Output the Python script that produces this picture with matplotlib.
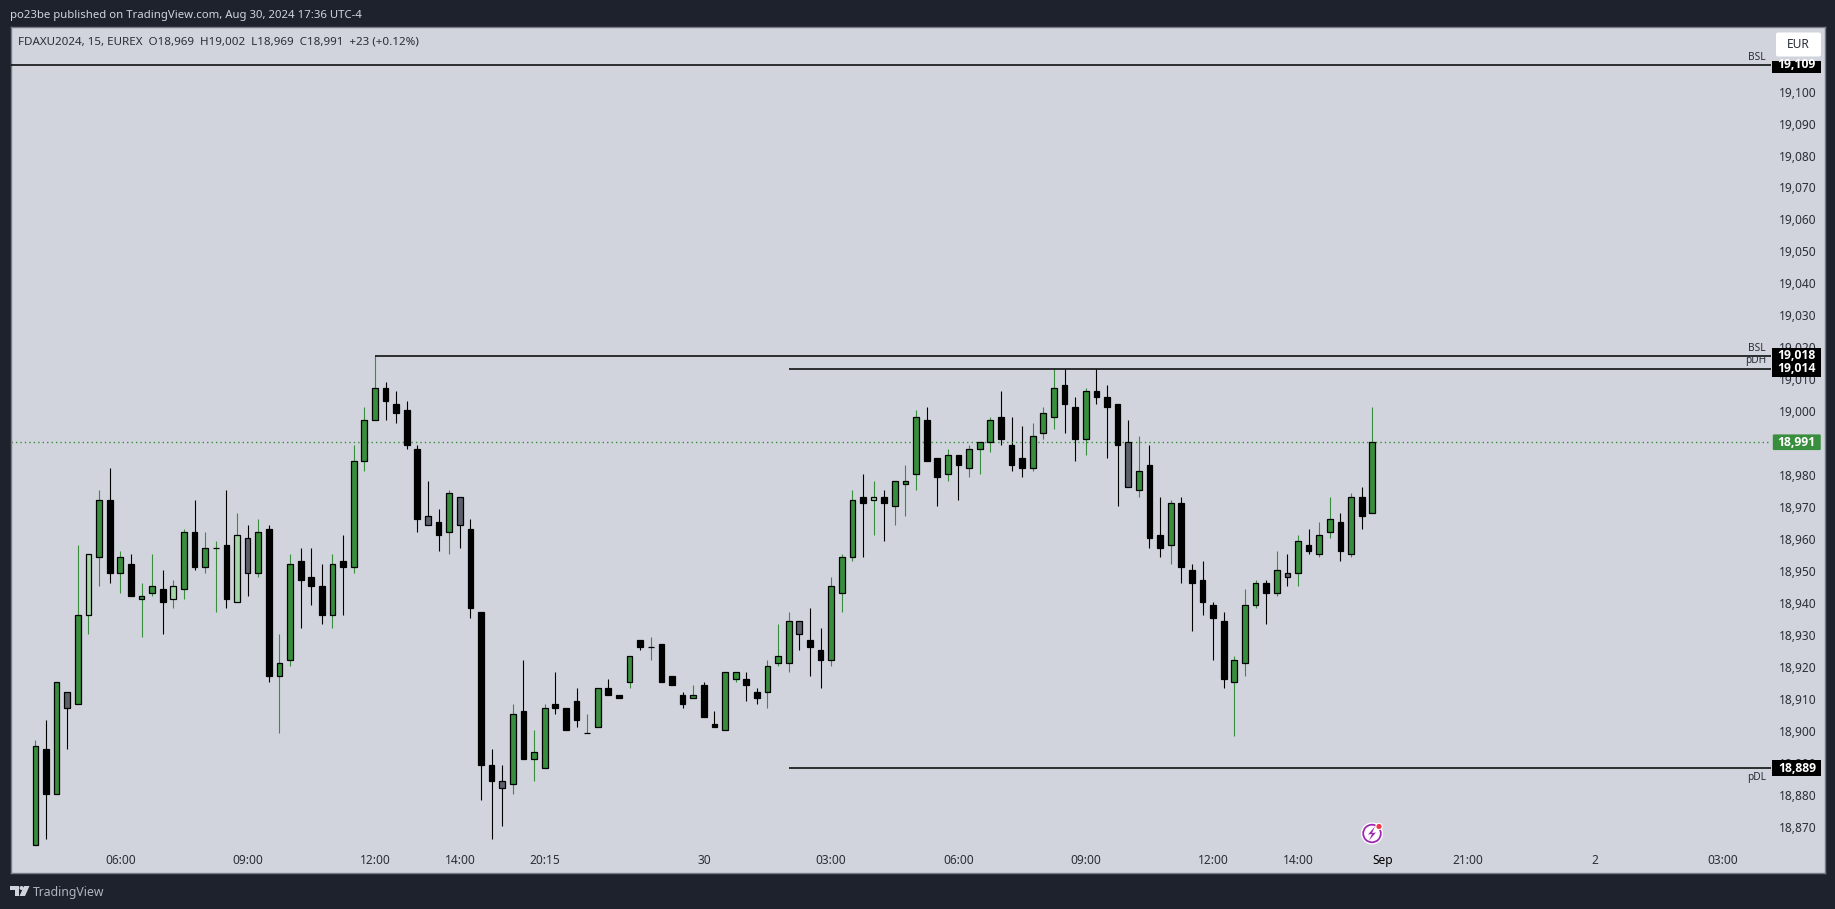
## ::: Importing Packages ::: ##
import matplotlib
matplotlib.use('Agg')
import matplotlib.pyplot as plt
from matplotlib.patches import Circle, FancyBboxPatch, Polygon, Rectangle
from matplotlib.transforms import ScaledTranslation


## ::: Chart Data ::: ##
# -> g = green, k = black, l = light green, s = slate
kinds = ('gkgsglgkgk' 'ggklgkggkl' 'sgkggkkkgk' 'gggkkkkskg' 'skkksgkggk'
         'kkggkkgkgk' 'kkgkkggkkg' 'ggskkgggkl' 'kgggkkgkgg' 'gkkkgggkkg'
         'kkksgkkgkk' 'kkkgggkgsg' 'kggkgkg')

body_tops = [18896, 18895, 18916, 18913, 18937, 18956, 18973, 18973, 18955, 18953,
             18943, 18946, 18945, 18946, 18963, 18963, 18958, 18958, 18959, 18962,
             18961, 18963, 18964, 18922, 18953, 18954, 18949, 18946, 18953, 18954,
             18985, 18998, 19008, 19008, 19003, 19001, 18989, 18968, 18966, 18975,
             18974, 18964, 18938, 18890, 18885, 18906, 18907, 18894, 18908, 18909,
             18908, 18910, 18900, 18914, 18914, 18912, 18924, 18929, 18927, 18928,
             18918, 18912, 18912, 18915, 18903, 18919, 18919, 18917, 18913, 18921,
             18924, 18935, 18935, 18929, 18926, 18946, 18955, 18973, 18974, 18974,
             18974, 18979, 18979, 18999, 18998, 18986, 18987, 18987, 18989, 18991,
             18998, 18999, 18990, 18986, 18993, 19000, 19008, 19009, 19002, 19007,
             19007, 19005, 19003, 18991, 18982, 18984, 18962, 18972, 18972, 18951,
             18948, 18940, 18935, 18923, 18940, 18947, 18947, 18951, 18950, 18960,
             18959, 18962, 18967, 18966, 18974, 18974, 18991]

body_bottoms = [18865, 18881, 18881, 18908, 18909, 18937, 18955, 18950, 18950, 18943,
                18942, 18944, 18941, 18942, 18945, 18952, 18952, 18958, 18942, 18941,
                18950, 18950, 18918, 18918, 18923, 18948, 18946, 18937, 18937, 18952,
                18952, 18985, 18998, 19004, 19000, 18990, 18967, 18965, 18962, 18963,
                18965, 18939, 18890, 18885, 18883, 18884, 18892, 18892, 18889, 18908,
                18901, 18904, 18900, 18902, 18912, 18911, 18916, 18927, 18927, 18916,
                18915, 18909, 18911, 18905, 18902, 18901, 18917, 18915, 18911, 18913,
                18922, 18922, 18931, 18927, 18923, 18923, 18944, 18955, 18972, 18973,
                18972, 18971, 18978, 18981, 18985, 18980, 18981, 18984, 18983, 18989,
                18991, 18992, 18984, 18983, 18983, 18994, 18999, 19003, 18992, 18992,
                19005, 19002, 18990, 18977, 18976, 18961, 18958, 18959, 18952, 18947,
                18941, 18936, 18917, 18916, 18922, 18940, 18944, 18944, 18949, 18950,
                18957, 18956, 18963, 18957, 18956, 18968, 18969]

highs = [18898, 18904, 18916, 18913, 18959, 18956, 18976, 18983, 18957, 18956,
         18947, 18956, 18951, 18948, 18964, 18973, 18963, 18960, 18976, 18969,
         18965, 18967, 18965, 18931, 18956, 18958, 18958, 18953, 18956, 18962,
         18990, 19002, 19018, 19010, 19007, 19004, 18990, 18979, 18970, 18976,
         18974, 18967, 18938, 18895, 18890, 18909, 18923, 18901, 18909, 18919,
         18908, 18914, 18906, 18914, 18917, 18912, 18924, 18929, 18930, 18928,
         18918, 18913, 18915, 18916, 18907, 18919, 18919, 18919, 18914, 18923,
         18934, 18938, 18935, 18939, 18933, 18949, 18956, 18976, 18981, 18979,
         18976, 18979, 18984, 19001, 19002, 18986, 18989, 18987, 18990, 18991,
         18999, 19007, 18999, 18996, 18997, 19002, 19014, 19014, 19005, 19008,
         19014, 19009, 19003, 18998, 18993, 18990, 18974, 18973, 18974, 18953,
         18954, 18941, 18938, 18924, 18945, 18948, 18948, 18957, 18956, 18962,
         18964, 18966, 18974, 18969, 18975, 18977, 19002]

lows = [18865, 18867, 18881, 18895, 18909, 18931, 18946, 18947, 18944, 18943,
        18930, 18943, 18931, 18939, 18942, 18951, 18950, 18938, 18939, 18941,
        18943, 18949, 18916, 18900, 18921, 18933, 18940, 18934, 18933, 18937,
        18950, 18982, 18998, 18998, 18997, 18989, 18963, 18965, 18957, 18956,
        18958, 18936, 18879, 18867, 18871, 18881, 18892, 18885, 18889, 18906,
        18901, 18902, 18900, 18902, 18912, 18911, 18914, 18926, 18923, 18916,
        18915, 18908, 18911, 18905, 18902, 18901, 18916, 18910, 18909, 18908,
        18921, 18919, 18926, 18918, 18914, 18921, 18938, 18954, 18955, 18962,
        18960, 18965, 18968, 18976, 18985, 18971, 18979, 18973, 18980, 18981,
        18988, 18990, 18982, 18980, 18982, 18992, 18995, 18994, 18985, 18987,
        19003, 18986, 18971, 18977, 18974, 18958, 18955, 18953, 18947, 18932,
        18937, 18923, 18914, 18899, 18918, 18939, 18934, 18943, 18946, 18946,
        18956, 18955, 18961, 18954, 18955, 18964, 18969]

time_ticks = [8, 20, 32, 40, 48, 63, 75, 87, 99, 111, 119, 127, 135, 147, 159]
time_labels = ['06:00', '09:00', '12:00', '14:00', '20:15', '30', '03:00', '06:00',
               '09:00', '12:00', '14:00', 'Sep', '21:00', '2', '03:00']
price_ticks = list(range(18870, 19101, 10))

levels = [19109, 19018, 19014, 18889]
level_names = ['BSL', 'BSL', 'pDH', 'pDL']
level_starts = [-3, 32, 71, 71]
last_price = 18991


## ::: Colors ::: ##
DARK = '#1e222d'
PANE = '#d1d4dc'
GREEN = '#388e3c'
FILLS = {'g': GREEN, 'k': '#000000', 'l': '#a5d6a7', 's': '#5d606b'}
WICKS = {'g': GREEN, 'k': '#000000', 'l': GREEN, 's': '#000000'}
TICK_CLR = '#2a2e39'
FONT = ['Noto Sans', 'DejaVu Sans']
BOLD = ['Open Sans', 'DejaVu Sans']
plt.rcParams['font.family'] = FONT

W, H = 1835, 909
LEFT, RIGHT, TOP, BOTTOM = 10.5, 1824.5, 27, 873


## ::: Figure Setup ::: ##
fig = plt.figure(figsize=(W / 100, H / 100), dpi=100, facecolor=DARK)
ax = fig.add_axes([LEFT / W, 1 - BOTTOM / H, (RIGHT - LEFT) / W, (BOTTOM - TOP) / H], facecolor=PANE)

# -> 10.61 px per bar with bar 0 on px 35.4, 3.197 px per point with 19109 on px 65
ax.set_xlim((LEFT - 35.4) / 10.61, (RIGHT - 35.4) / 10.61)
ax.set_ylim(19109 - (BOTTOM - 65) / 3.197, 19109 - (TOP - 65) / 3.197)

for spine in ax.spines.values():
    spine.set_color('#787b86')
    spine.set_linewidth(1.0)

ax.yaxis.tick_right()
ax.set_yticks(price_ticks)
ax.set_yticklabels([f'{p:,}' for p in price_ticks])
ax.tick_params(axis='y', length=0, direction='in', pad=-6, labelsize=8.6, labelcolor=TICK_CLR)
# -> nudge price labels 2 px up, same as the reference
nudge = ScaledTranslation(0, 2.2 / 100, fig.dpi_scale_trans)
for lab in ax.get_yticklabels():
    lab.set_horizontalalignment('right')
    lab.set_transform(lab.get_transform() + nudge)

ax.set_xticks(time_ticks)
ax.set_xticklabels(time_labels)
ax.tick_params(axis='x', length=0, direction='in', pad=-14, labelsize=8.6, labelcolor=TICK_CLR)
for lab in ax.get_xticklabels():
    if lab.get_text() == 'Sep':
        lab.set_color('#000000')


## ::: Candles ::: ##
for i, kind in enumerate(kinds):
    ax.vlines(i, lows[i], highs[i], colors=WICKS[kind], linewidth=0.8, zorder=2)
    ax.bar(i, body_tops[i] - body_bottoms[i], bottom=body_bottoms[i], width=0.54,
           color=FILLS[kind], edgecolor='#000000', linewidth=0.9, zorder=3)


## ::: Level Lines ::: ##
BOX_L, BOX_W = 163.7, 4.62
TEXT_X = 163.1
ax.hlines(last_price, ax.get_xlim()[0], BOX_L - 0.15, colors=GREEN, linewidth=1.0,
          linestyles=(0, (1, 2.2)), zorder=2.5)

for level, name, start in zip(levels, level_names, level_starts):
    ax.hlines(level, start, BOX_L - 0.15, colors='#000000', linewidth=1.1, zorder=4)
    offset = -3.0 if name == 'pDL' else 2.6
    if name == 'BSL':
        offset = 2.4
    ax.text(TEXT_X, level + offset, name, ha='right', va='center', fontsize=7.3, color=TICK_CLR, zorder=4)

    box_top = 19110.3 if level == 19109 else level + 2.5
    box = Rectangle((BOX_L, level - 2.5), BOX_W, box_top - level + 2.5, facecolor='#000000',
                    edgecolor='none', zorder=5)
    ax.add_patch(box)
    label = ax.text(BOX_L + BOX_W / 2, level, f'{level:,}', ha='center', va='center', fontsize=8.8,
                    family=BOLD, color='white', fontweight='bold', zorder=6)
    label.set_clip_path(box)

ax.add_patch(FancyBboxPatch((BOX_L + 0.05, last_price - 2.45), BOX_W - 0.1, 4.9,
                            boxstyle='round,pad=0,rounding_size=0.1', mutation_aspect=3.3,
                            facecolor=GREEN, edgecolor='none', zorder=5))
ax.text(BOX_L + BOX_W / 2, last_price, f'{last_price:,}', ha='center', va='center', fontsize=8.8,
        family=BOLD, color='white', fontweight='bold', zorder=6)


## ::: Chrome (pixel coordinates) ::: ##
ov = fig.add_axes([0, 0, 1, 1], facecolor='none')
ov.set_xlim(0, W)
ov.set_ylim(H, 0)
ov.axis('off')

ov.text(10, 15.5, 'po23be published on TradingView.com, Aug 30, 2024 17:36 UTC-4', ha='left', va='center',
        fontsize=8.2, color='#d1d4dc')
ov.text(18, 42, 'FDAXU2024, 15, EUREX  O18,969  H19,002  L18,969  C18,991  +23 (+0.12%)', ha='left',
        va='center', fontsize=8.35, color=TICK_CLR)
ov.text(33, 892.5, 'TradingView', ha='left', va='center', fontsize=8.8, color='#b2b5be')

# -> EUR button
ov.add_patch(FancyBboxPatch((1776, 32.5), 45, 24, boxstyle='round,pad=0,rounding_size=2', facecolor='white',
                            edgecolor='none'))
ov.text(1798.5, 45, 'EUR', ha='center', va='center', fontsize=8.6, color=TICK_CLR)

# -> TradingView logo
ov.add_patch(Polygon([(10, 886), (19, 886), (19, 896), (15, 896), (15, 890), (10, 890)], facecolor='#d1d4dc'))
ov.add_patch(Circle((21.5, 888), 2, facecolor='#d1d4dc'))
ov.add_patch(Polygon([(24, 886), (29.5, 886), (25, 896), (19.5, 896)], facecolor='#d1d4dc'))

# -> Lightning icon
ov.add_patch(Circle((1372, 833.5), 11, facecolor='white', edgecolor='none'))
ov.add_patch(Circle((1372, 833.5), 8.8, facecolor='none', edgecolor='#9c27b0', linewidth=1.3))
ov.add_patch(Polygon([(1375, 826.5), (1368, 834.5), (1372, 834), (1369, 840.5), (1376, 832.5), (1372, 833)],
                     facecolor='#9c27b0'))
ov.add_patch(Circle((1379, 826.5), 3.7, facecolor='white'))
ov.add_patch(Circle((1379, 826.5), 2.6, facecolor='#f23645'))


## ::: Output ::: ##
fig.savefig('out.png', dpi=100, facecolor=DARK)
